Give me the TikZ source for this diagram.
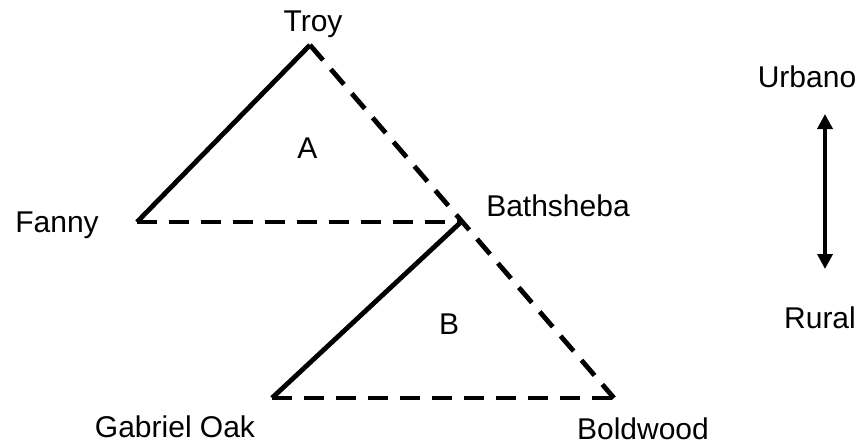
\documentclass[tikz,border=0pt]{standalone}
\usepackage{fontspec}
\setmainfont{Liberation Sans}
\usepackage{tikz}
\usetikzlibrary{arrows.meta, positioning}

\begin{document}
\begin{tikzpicture}[
    x=1pt, y=-1pt,
    font=\fontsize{30}{36}\selectfont,
    solidline/.style={line width=4.8pt, line cap=butt, line join=miter},
    dashline/.style={line width=4.8pt, dash pattern=on 20pt off 12pt},
    person/.style={inner sep=0pt, anchor=base, text=black}
]
\useasboundingbox (0,0) rectangle (864,444);

% -- Triangle corners --
\coordinate (troy) at (310, 45);
\coordinate (fanny) at (137, 222);
\coordinate (bath) at (461, 222);
\coordinate (gabriel) at (272, 398);
\coordinate (bold) at (614, 398);

% -- Labels --
\node[person] (troylbl) at (313, 32) {Troy};
\node[person] (fannylbl) at (57, 232) {Fanny};
\node[person] (bathlbl) at (558, 216) {Bathsheba};
\node[person] (gabriellbl) at (175, 437) {Gabriel Oak};
\node[person] (boldlbl) at (643, 439) {Boldwood};
\node[person] (alabel) at (307.5, 158) {A};
\node[person] (blabel) at (449, 334) {B};

% -- Triangle A --
\draw[solidline] (fanny) -- (troy);
\draw[dashline] (fanny) -- (bath);

% -- Triangle B --
\draw[solidline] (gabriel) -- (bath);
\draw[dashline] (gabriel) -- (bold);

% -- Long side --
\draw[dashline] (troy) -- (bold);

% -- Scale --
\node[person] (urbano) at (807, 88) {Urbano};
\node[person] (rural) at (820, 328) {Rural};
\coordinate (top) at (825, 114);
\coordinate (bottom) at (825, 269);
\draw[line width=3.5pt, {Triangle[length=15pt, width=15pt]}-{Triangle[length=15pt, width=15pt]}] (top) -- (bottom);
\end{tikzpicture}
\end{document}
